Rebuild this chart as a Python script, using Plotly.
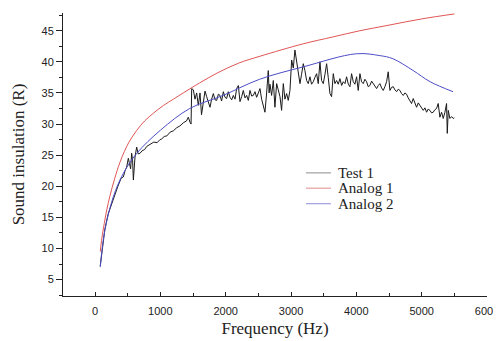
import plotly.graph_objects as go

test_f = [80, 120, 150, 200, 280, 350, 400, 434, 460, 485, 510, 530, 545, 561, 575, 587, 600, 612, 625, 638,
          660, 689, 720, 760, 791, 842, 900, 950, 995, 1020, 1060, 1100, 1150, 1198, 1250, 1300, 1351, 1400,
          1428, 1454, 1470, 1480, 1505, 1530, 1556, 1581, 1607, 1630, 1658, 1684, 1709, 1735, 1760, 1785,
          1811, 1837, 1862, 1888, 1913, 1938, 1964, 1990, 2015, 2040, 2066, 2092, 2117, 2143, 2168, 2194,
          2219, 2245, 2270, 2296, 2321, 2347, 2372, 2398, 2423, 2449, 2474, 2500, 2525, 2550, 2576, 2601,
          2627, 2652, 2665, 2678, 2703, 2729, 2754, 2780, 2805, 2831, 2856, 2882, 2907, 2933, 2958, 2984,
          3010, 3035, 3060, 3086, 3112, 3137, 3162, 3188, 3213, 3239, 3264, 3290, 3315, 3341, 3366, 3392,
          3417, 3443, 3468, 3494, 3520, 3545, 3570, 3596, 3621, 3647, 3672, 3698, 3723, 3749, 3775, 3800,
          3826, 3851, 3877, 3902, 3927, 3953, 3978, 4004, 4029, 4055, 4080, 4106, 4131, 4157, 4182, 4208,
          4234, 4259, 4285, 4310, 4336, 4361, 4387, 4412, 4437, 4463, 4488, 4514, 4540, 4565, 4590, 4616,
          4642, 4667, 4692, 4718, 4744, 4769, 4794, 4820, 4845, 4871, 4896, 4922, 4948, 4973, 4998, 5024,
          5050, 5075, 5100, 5126, 5151, 5177, 5202, 5228, 5253, 5279, 5305, 5330, 5356, 5381, 5392, 5407,
          5432, 5458, 5483, 5500]
test_v = [7.2, 10.5, 13.0, 15.5, 18.0, 20.0, 21.3, 21.5, 22.5, 23.1, 24.5, 23.5, 22.8, 25.3, 24.2, 21.0, 23.5, 24.7, 25.5, 26.3,
          25.2, 25.3, 25.7, 25.9, 26.4, 26.7, 27.1, 27.0, 27.5, 27.6, 28.0, 28.1, 28.7, 28.9, 29.4, 29.7, 30.2, 30.5,
          31.1, 30.3, 30.0, 35.7, 35.5, 34.0, 35.0, 33.0, 35.0, 31.5, 33.8, 35.3, 34.4, 33.5, 32.7, 34.0,
          34.9, 33.9, 33.8, 34.8, 34.6, 33.7, 35.2, 34.3, 34.1, 35.2, 34.3, 33.9, 34.6, 34.0, 35.7, 36.2,
          33.6, 34.4, 35.4, 34.2, 34.6, 33.8, 35.4, 34.5, 34.6, 35.2, 34.3, 35.0, 35.7, 34.0, 32.7, 31.9,
          35.0, 38.6, 35.0, 36.4, 34.6, 37.0, 32.7, 36.5, 35.5, 34.4, 32.2, 36.5, 34.0, 34.9, 33.8, 35.4,
          40.3, 39.0, 41.9, 40.3, 38.1, 36.5, 38.0, 39.7, 38.6, 37.0, 36.5, 37.6, 36.4, 36.8, 37.5, 38.1,
          36.5, 40.0, 37.0, 36.5, 38.0, 39.7, 37.5, 34.9, 34.4, 38.1, 36.5, 37.0, 36.4, 37.3, 36.2, 36.8,
          36.5, 37.6, 36.4, 36.0, 38.1, 36.8, 36.4, 37.6, 35.4, 38.1, 36.8, 36.5, 37.2, 36.8, 36.0, 36.2,
          36.9, 36.5, 36.0, 35.7, 36.2, 36.5, 35.8, 35.4, 36.0, 36.8, 38.4, 35.4, 35.9, 36.0, 35.5, 35.2,
          35.6, 35.4, 34.9, 34.6, 35.0, 34.8, 34.2, 33.8, 33.3, 34.1, 33.5, 32.7, 33.4, 33.0, 32.6, 32.2,
          32.6, 31.9, 32.4, 32.2, 31.8, 31.9, 32.3, 32.5, 33.3, 31.1, 31.9, 30.9, 31.9, 33.3, 28.5, 32.2,
          30.9, 31.2, 30.9, 31.0]

# Analog 1
an1_f = [80, 100, 130, 180, 230, 300, 380, 450, 520, 640, 760, 900, 1050, 1200, 1350, 1600, 1870, 2200, 2525,
         3188, 3640, 4055, 4500, 5000, 5500]
an1_v = [9.5, 11.3, 13.3, 16.2, 18.5, 21.2, 23.8, 25.6, 27.1, 29.0, 30.5, 31.8, 33.0, 34.0, 35.0, 36.6, 38.2,
         39.8, 40.9, 42.9, 44.0, 45.0, 45.9, 46.9, 47.7]

# Analog 2
an2_f = [80, 150, 280, 430, 640, 1000, 1450, 1960, 2520, 3190, 4000, 4360, 4560, 4870, 5130, 5480]
an2_v = [7.0, 12.9, 18.3, 22.0, 25.3, 29.0, 32.5, 34.6, 37.2, 39.2, 41.3, 41.0, 40.5, 38.6, 36.8, 35.2]

series_names = ["Test 1", "Analog 1", "Analog 2"]
series_colors = ["#1a1a1a", "#e05555", "#4d4dc8"]
legend_colors = ["#8c8c8c", "#e08c8c", "#8c8cd8"]

x_ticks = [0, 1000, 2000, 3000, 4000, 5000, 6000]
y_ticks = [5, 10, 15, 20, 25, 30, 35, 40, 45]

fig = go.Figure()
fig.add_trace(go.Scatter(x=test_f, y=test_v, mode="lines", name=series_names[0],
                         line=dict(color=series_colors[0], width=1)))
fig.add_trace(go.Scatter(x=an1_f, y=an1_v, mode="lines", name=series_names[1], line_shape="spline",
                         line=dict(color=series_colors[1], width=1)))
fig.add_trace(go.Scatter(x=an2_f, y=an2_v, mode="lines", name=series_names[2], line_shape="spline",
                         line=dict(color=series_colors[2], width=1)))

# compact legend (text as annotations, sample lines as shapes)
annotations = []
shapes = []
leg_x0, leg_x1, leg_tx = 0.573, 0.632, 0.645
leg_y = [0.435, 0.381, 0.326]
for name, col, ly in zip(series_names, legend_colors, leg_y):
    shapes.append(dict(type="line", xref="paper", yref="paper", x0=leg_x0, x1=leg_x1, y0=ly, y1=ly,
                       line=dict(color=col, width=1)))
    annotations.append(dict(xref="paper", yref="paper", x=leg_tx, y=ly, xanchor="left", yanchor="middle",
                            text=name, showarrow=False,
                            font=dict(family="Liberation Serif", size=15, color="#222")))

# the page body adds an 8px offset, so the figure is 8px smaller than the window
fig.update_layout(
    width=493, height=333,
    margin=dict(l=55, r=14, t=5, b=45),
    paper_bgcolor="white", plot_bgcolor="white",
    showlegend=False,
    annotations=annotations, shapes=shapes,
    xaxis=dict(range=[-490, 6000], tickvals=x_ticks, showgrid=False, zeroline=False, automargin=False,
               showline=True, linecolor="#222", linewidth=1, ticklabeloverflow="allow",
               ticks="inside", ticklen=4, tickcolor="#222", ticklabelstandoff=5,
               minor=dict(ticks="inside", dtick=500, tick0=0, ticklen=3, tickcolor="#222"),
               tickfont=dict(family="Liberation Sans", size=11, color="#222"),
               title=dict(text="Frequency (Hz)", standoff=5,
                          font=dict(family="Liberation Serif", size=17, color="#222"))),
    yaxis=dict(range=[2.36, 47.85], tickvals=y_ticks, showgrid=False, zeroline=False, automargin=False,
               showline=True, linecolor="#222", linewidth=1,
               ticks="outside", ticklen=6, tickcolor="#222",
               minor=dict(ticks="outside", dtick=2.5, tick0=0, ticklen=3, tickcolor="#222"),
               tickfont=dict(family="Liberation Sans", size=11, color="#222"),
               title=dict(text="Sound insulation (R)", standoff=12,
                          font=dict(family="Liberation Serif", size=17, color="#222"))),
)

fig.write_html("out.html")
